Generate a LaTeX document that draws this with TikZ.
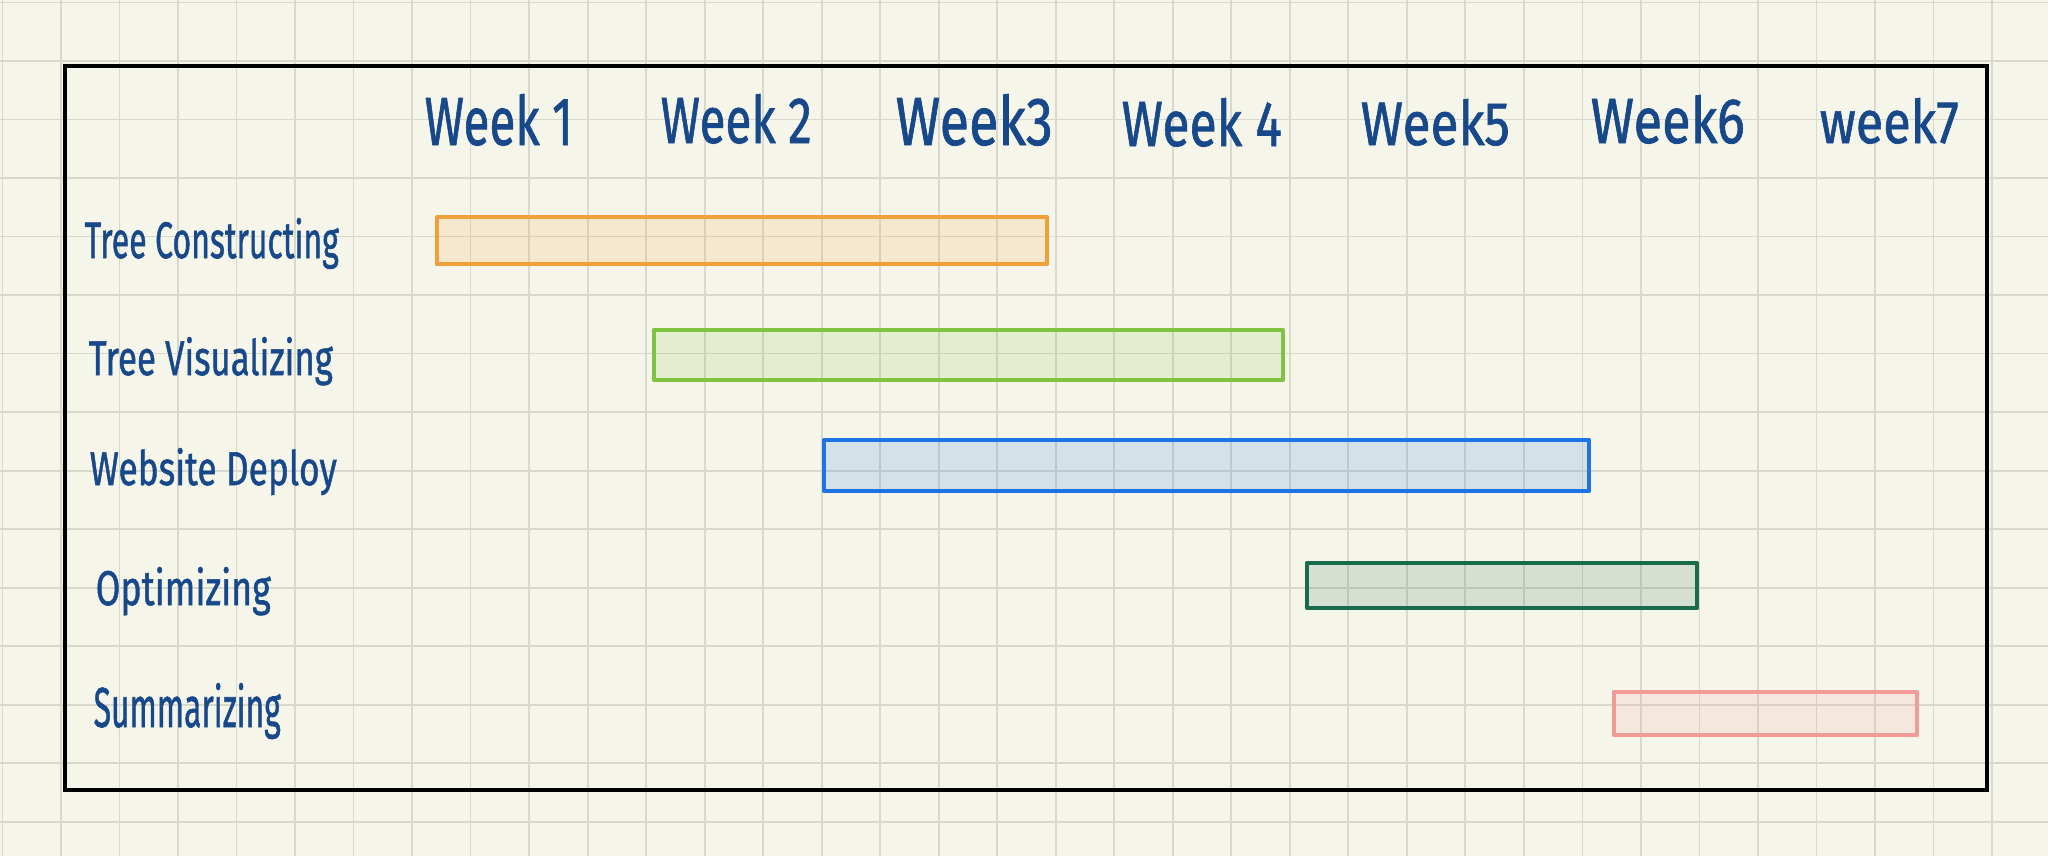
\documentclass[tikz,border=0pt]{standalone}
\usepackage{fontspec}
\setmainfont{Fira Sans}
\newfontfamily\hand{Fira Sans}[UprightFeatures={FakeBold=1.2}]
\usepackage{graphicx}
\definecolor{paper}{HTML}{F6F5EA}
\definecolor{gridc}{HTML}{D8D8CC}
\definecolor{ink}{HTML}{17488A}
\definecolor{corange}{HTML}{F0A038}
\definecolor{cgreen}{HTML}{80C342}
\definecolor{cblue}{HTML}{1E74E6}
\definecolor{cdgreen}{HTML}{1A6B4C}
\definecolor{cpink}{HTML}{F29A98}
\newcommand{\hw}[3]{\resizebox{#1cm}{#2cm}{\hand #3}}
\begin{document}
\begin{tikzpicture}[x=0.01cm,y=-0.01cm,
  gridline/.style={draw=gridc,line width=0.5pt},
  frame/.style={draw=black,line width=1.3pt},
  bar/.style={line width=1.2pt,line join=round,fill opacity=0.15},
  lbl/.style={text=ink,inner sep=0pt,anchor=base west}]
\useasboundingbox (0,0) rectangle (2048,856);
\fill[paper] (0,0) rectangle (2048,856);
\foreach \i in {0,...,35} {\draw[gridline] ({2.5+58.514*\i},0) -- ({2.5+58.514*\i},856);}
\foreach \j in {0,...,14} {\draw[gridline] (0,{2.5+58.514*\j}) -- (2048,{2.5+58.514*\j});}
\draw[frame] (65,66) rectangle (1987,790);
% bars
\draw[bar,draw=corange,fill=corange] (437,217) rectangle (1047,264);
\draw[bar,draw=cgreen,fill=cgreen] (654,330) rectangle (1283,380);
\draw[bar,draw=cblue,fill=cblue] (824,440) rectangle (1589,491);
\draw[bar,draw=cdgreen,fill=cdgreen] (1307,563) rectangle (1697,608);
\draw[bar,draw=cpink,fill=cpink] (1614,692) rectangle (1917,735);
% week labels
\node[lbl] (w1) at (424,145) {\hw{1.48}{0.51}{Week 1}};
\node[lbl] (w2) at (660,143) {\hw{1.51}{0.49}{Week 2}};
\node[lbl] (w3) at (895,145) {\hw{1.57}{0.51}{Week3}};
\node[lbl] (w4) at (1121,146) {\hw{1.60}{0.48}{Week 4}};
\node[lbl] (w5) at (1360,145) {\hw{1.49}{0.46}{Week5}};
\node[lbl] (w6) at (1590,143) {\hw{1.54}{0.48}{Week6}};
\node[lbl] (w7) at (1819,143) {\hw{1.39}{0.45}{week7}};
% row labels
\node[lbl] (r1) at (84,258) {\hw{2.54}{0.40}{Tree Constructing}};
\node[lbl] (r2) at (88,375) {\hw{2.44}{0.38}{Tree Visualizing}};
\node[lbl] (r3) at (89,485) {\hw{2.47}{0.37}{Website Deploy}};
\node[lbl] (r4) at (95,605) {\hw{1.75}{0.38}{Optimizing}};
\node[lbl] (r5) at (93,727) {\hw{1.87}{0.44}{Summarizing}};
\end{tikzpicture}
\end{document}
